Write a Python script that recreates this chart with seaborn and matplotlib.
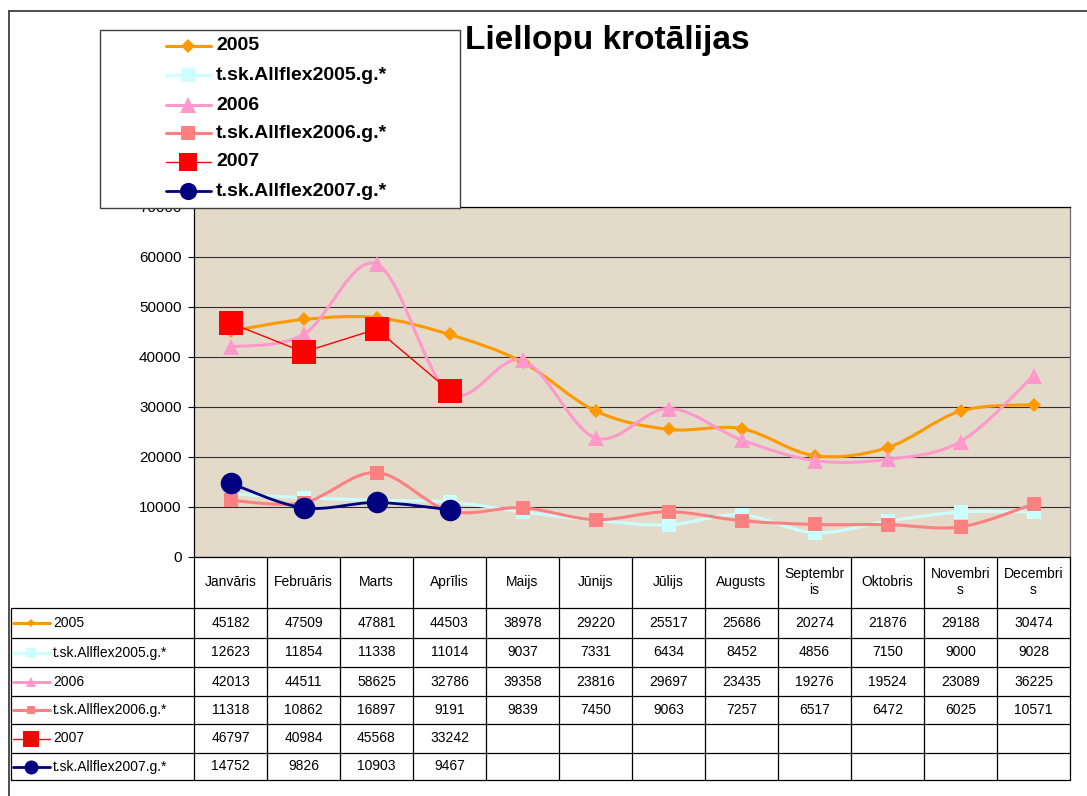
import numpy as np
import seaborn as sns
import matplotlib.pyplot as plt
from matplotlib.path import Path
from matplotlib.patches import PathPatch, Rectangle
from matplotlib.lines import Line2D

months = ["Janvāris", "Februāris", "Marts", "Aprīlis", "Maijs", "Jūnijs", "Jūlijs",
          "Augusts", "Septembr\nis", "Oktobris", "Novembri\ns", "Decembri\ns"]
series_names = ["2005", "t.sk.Allflex2005.g.*", "2006", "t.sk.Allflex2006.g.*",
                "2007", "t.sk.Allflex2007.g.*"]
y2005 = [45182, 47509, 47881, 44503, 38978, 29220, 25517, 25686, 20274, 21876, 29188, 30474]
allflex2005 = [12623, 11854, 11338, 11014, 9037, 7331, 6434, 8452, 4856, 7150, 9000, 9028]
y2006 = [42013, 44511, 58625, 32786, 39358, 23816, 29697, 23435, 19276, 19524, 23089, 36225]
allflex2006 = [11318, 10862, 16897, 9191, 9839, 7450, 9063, 7257, 6517, 6472, 6025, 10571]
y2007 = [46797, 40984, 45568, 33242]
allflex2007 = [14752, 9826, 10903, 9467]
yticks = [0, 10000, 20000, 30000, 40000, 50000, 60000, 70000]

all_values = [y2005, allflex2005, y2006, allflex2006, y2007, allflex2007]

# color, marker, marker size (pt), line width, smoothed line
styles = [
    ("#FF9900", "D", 7.0, 2.2, True),
    ("#CCFFFF", "s", 10.0, 2.2, True),
    ("#FF99CC", "^", 11.0, 2.2, True),
    ("#FF8080", "s", 9.5, 2.2, True),
    ("#FF0000", "s", 17.0, 1.0, False),
    ("#000080", "o", 15.5, 2.0, True),
]

W, H = 1087, 796


def fx(x):
    return x / W


def fy(y):
    return 1 - y / H


def smooth_path(xs, ys):
    pts = np.column_stack([xs, ys]).astype(float)
    n = len(pts)
    verts = [pts[0]]
    codes = [Path.MOVETO]
    for i in range(n - 1):
        p0 = pts[max(i - 1, 0)]
        p1 = pts[i]
        p2 = pts[i + 1]
        p3 = pts[min(i + 2, n - 1)]
        verts += [p1 + (p2 - p0) / 6, p2 - (p3 - p1) / 6, p2]
        codes += [Path.CURVE4] * 3
    return Path(verts, codes)


sns.set_style("white")
plt.rcParams['font.family'] = ['Liberation Sans', 'DejaVu Sans']
plt.rcParams['text.color'] = 'black'
plt.rcParams['ytick.labelcolor'] = 'black'

fig = plt.figure(figsize=(10.87, 7.96), dpi=100)
ax = fig.add_axes([fx(194), fy(557), (1070 - 194) / W, (557 - 207) / H])
ax.set_facecolor("#E3DACA")

for vals, (col, mk, ms, lw, smooth) in zip(all_values, styles):
    xs = np.arange(len(vals))
    if smooth:
        ax.add_patch(PathPatch(smooth_path(xs, vals), facecolor="none", edgecolor=col,
                               lw=lw, zorder=3, capstyle="round", joinstyle="round"))
        sns.lineplot(x=xs, y=vals, ax=ax, linestyle="", marker=mk, markersize=ms,
                     color=col, markeredgewidth=0, zorder=4)
    else:
        sns.lineplot(x=xs, y=vals, ax=ax, lw=lw, marker=mk, markersize=ms,
                     color=col, markeredgewidth=0, zorder=4)

ax.set_xlim(-0.5, len(months) - 0.5)
ax.set_ylim(0, 70000)
ax.set_xticks([])
ax.set_yticks(yticks)
ax.set_yticklabels([str(v) for v in yticks], fontsize=11, color="black")
ax.tick_params(axis="y", length=4, width=0.8, color="black", pad=5, left=True)
ax.yaxis.grid(True, color="#303030", lw=0.8)
ax.set_axisbelow(True)
for side in ["left", "top", "bottom"]:
    ax.spines[side].set_color("black")
    ax.spines[side].set_linewidth(0.9)
ax.spines["right"].set_color("#707070")
ax.spines["right"].set_linewidth(0.9)
ax.set_xlabel("")
ax.set_ylabel("")

# outer chart frame
fig.add_artist(Line2D([fx(9), fx(9)], [fy(11), fy(800)], color="#303030", lw=1.2))
fig.add_artist(Line2D([fx(9), fx(1090)], [fy(11), fy(11)], color="#303030", lw=1.2))

# title
fig.text(fx(607), fy(40), "Liellopu krotālijas", ha="center", va="center",
         fontsize=24, fontweight="bold", color="black")

# legend box
fig.add_artist(Rectangle((fx(100), fy(208)), (460 - 100) / W, (208 - 30) / H,
                         transform=fig.transFigure, facecolor="white",
                         edgecolor="#404040", lw=1.0, zorder=10))
leg_rows = [46, 75, 105, 133, 162, 191]
for name, ly, (col, mk, ms, lw, smooth) in zip(series_names, leg_rows, styles):
    fig.add_artist(Line2D([fx(166), fx(188), fx(211)], [fy(ly)] * 3, color=col, lw=lw,
                          marker=mk, markersize=ms * (0.8 if ms > 15 else 1.0),
                          markevery=[1], markeredgewidth=0, zorder=11))
    fig.text(fx(216), fy(ly), name, ha="left", va="center", fontsize=14,
             fontweight="bold", color="black", zorder=12)

# data table under the plot
col_x = [194 + 73 * k for k in range(len(months) + 1)]
row_y = [608, 638, 667, 696, 724, 753, 780]
for yy in row_y:
    fig.add_artist(Line2D([fx(11), fx(1070)], [fy(yy), fy(yy)], color="black", lw=0.9))
fig.add_artist(Line2D([fx(11), fx(11)], [fy(608), fy(780)], color="black", lw=0.9))
for xx in col_x:
    fig.add_artist(Line2D([fx(xx), fx(xx)], [fy(557), fy(780)], color="black", lw=0.9))

for k, m in enumerate(months):
    cx = (col_x[k] + col_x[k + 1]) / 2
    fig.text(fx(cx), fy(582), m, ha="center", va="center", fontsize=10,
             linespacing=1.25, color="black")

for r, (name, vals, (col, mk, ms, lw, smooth)) in enumerate(zip(series_names, all_values, styles)):
    cy = (row_y[r] + row_y[r + 1]) / 2
    fig.add_artist(Line2D([fx(13), fx(31), fx(50)], [fy(cy)] * 3, color=col, lw=lw,
                          marker=mk, markersize=ms * 0.65, markevery=[1],
                          markeredgewidth=0))
    fig.text(fx(53), fy(cy), name, ha="left", va="center", fontsize=10, color="black")
    for k, v in enumerate(vals):
        cx = (col_x[k] + col_x[k + 1]) / 2
        fig.text(fx(cx), fy(cy), str(v), ha="center", va="center", fontsize=10,
                 color="black")

fig.savefig("out.png", dpi=100)
